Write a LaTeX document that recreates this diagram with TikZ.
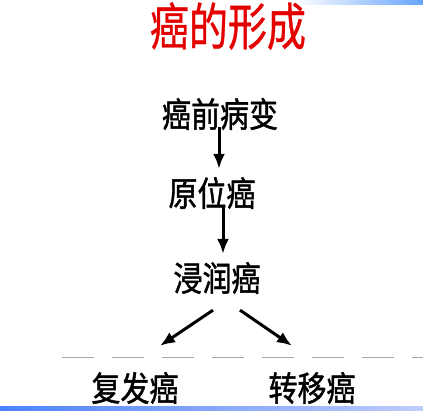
\documentclass[tikz,border=0pt]{standalone}
\usepackage{fontspec}
\newfontfamily\cjk[FakeBold=1.4]{Noto Sans CJK SC}
\newfontfamily\cjktitle[FakeBold=0.8]{Noto Sans CJK SC}
\usetikzlibrary{arrows.meta}

\begin{document}
\begin{tikzpicture}[x=1pt, y=1pt,
    stage/.style={black, inner sep=0pt, font=\cjk\fontsize{29}{29}\selectfont, yscale=1.18, transform shape},
    flow/.style={-{Latex[length=15pt, width=12pt]}, line width=3pt}]
    \useasboundingbox (0,0) rectangle (423,410);
    % Draw slide bars
    \shade[left color=white, right color=cyan!40!blue!60] (295,405) rectangle (423,410);
    \shade[left color=cyan!30!blue!70, right color=cyan!20!blue!25] (0,0) rectangle (423,4);
    % Draw title
    \node[red!90!black, inner sep=0pt, font=\cjktitle\fontsize{39}{39}\selectfont, yscale=1.3, transform shape] (title) at (228,384) {癌的形成};
    % Draw stages
    \node[stage] (pre) at (220,296) {癌前病变};
    \node[stage] (situ) at (212,217) {原位癌};
    \node[stage] (invasive) at (217,132) {浸润癌};
    \draw[flow, shorten <=-3pt, shorten >=8pt] ([xshift=-1pt]pre.south) -- ([xshift=7pt]situ.north);
    \draw[flow] ([xshift=11pt, yshift=2pt]situ.south) -- ([xshift=6pt, yshift=8pt]invasive.north);
    % Draw outcomes
    \draw[gray!70, line width=1pt, dash pattern=on 32pt off 18pt] (62,53) -- (423,53);
    \node[stage] (relapse) at (135,22) {复发癌};
    \node[stage] (spread) at (312,22) {转移癌};
    \draw[flow] ([xshift=-4pt, yshift=-16pt]invasive.south) -- ([xshift=25pt, yshift=26pt]relapse.north);
    \draw[flow] ([xshift=23pt, yshift=-16pt]invasive.south) -- ([xshift=-20pt, yshift=26pt]spread.north);
  \end{tikzpicture}
\end{document}
